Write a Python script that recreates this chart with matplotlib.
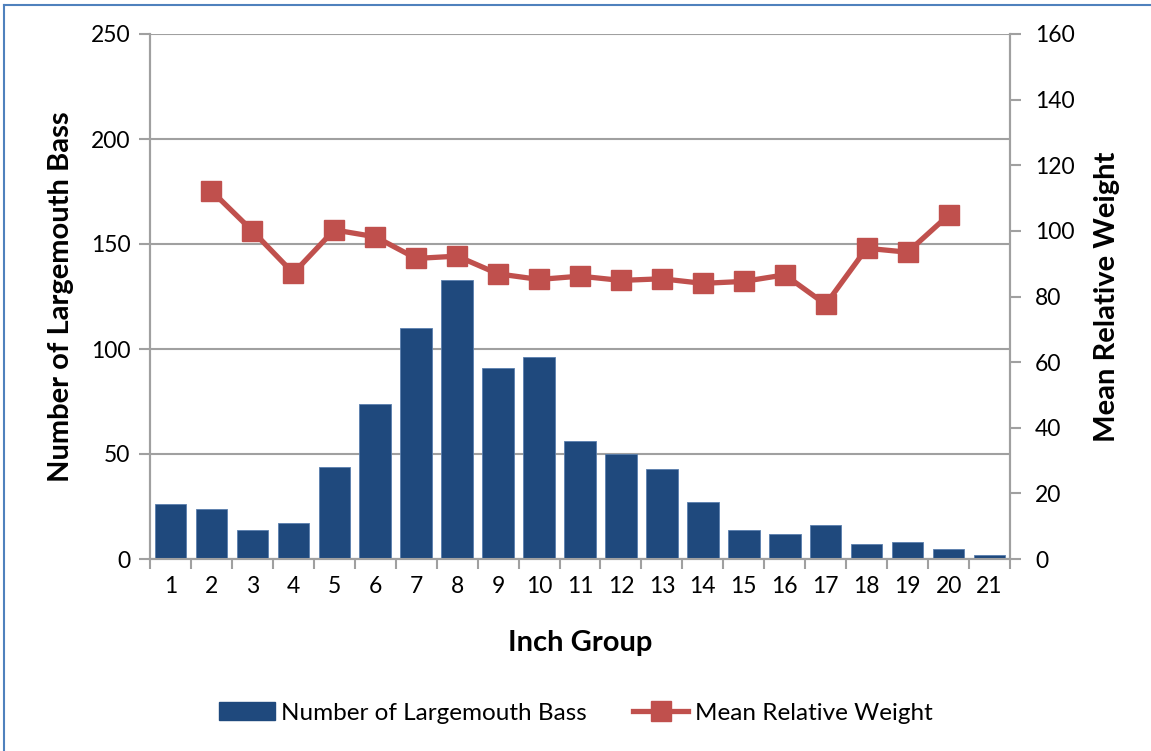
import matplotlib.pyplot as plt
from matplotlib.lines import Line2D
from matplotlib.patches import Patch

plt.rcParams['font.family'] = ['Lato', 'DejaVu Sans']

# data
inch_group = list(range(1, 22))
n_bass = [26, 24, 14, 17, 44, 74, 110, 133, 91, 96, 56, 50, 43, 27, 14, 12, 16, 7, 8, 5, 2]
wr_groups = list(range(2, 21))
mean_wr = [112.2, 100.0, 87.1, 100.3, 98.2, 91.6, 92.3, 86.9, 85.2, 86.2,
           84.9, 85.4, 84.0, 84.6, 86.6, 77.6, 94.7, 93.5, 104.8]

bar_col = '#1F497D'
line_col = '#C0504D'
grid_col = '#A0A0A0'

fig = plt.figure(figsize=(11.51, 7.51), dpi=100)
ax = fig.add_axes([150/1151, 1 - 559/751, 860/1151, 525/751])
ax2 = ax.twinx()

ax.bar(inch_group, n_bass, width=0.77, color=bar_col, edgecolor='#5a7fae', linewidth=0.6, zorder=3)
ax2.plot(wr_groups, mean_wr, color=line_col, lw=3.8, marker='s', markersize=14.5, zorder=4)

ax.set_xlim(0.5, 21.5)
ax.set_ylim(0, 250)
ax2.set_ylim(0, 160)
ax.set_yticks(range(0, 251, 50))
ax2.set_yticks(range(0, 161, 20))
ax.set_xticks(inch_group)
ax.set_xticks([i + 0.5 for i in range(0, 22)], minor=True)
ax.tick_params(axis='x', which='major', length=0, labelsize=16.5, pad=12)
ax.tick_params(axis='x', which='minor', length=7, width=1.5, color=grid_col, direction='out')
ax.tick_params(axis='y', length=8, width=1.5, color=grid_col, labelsize=16.5, pad=6)
ax2.tick_params(axis='y', length=8, width=1.5, color=grid_col, labelsize=16.5, pad=10)

ax.yaxis.grid(True, color=grid_col, lw=1.5, zorder=0)
ax.set_axisbelow(True)
for a in (ax, ax2):
    a.spines['top'].set_visible(False)
    for s in ('left', 'right', 'bottom'):
        a.spines[s].set_color(grid_col)
        a.spines[s].set_linewidth(1.5)
ax.set_zorder(ax2.get_zorder() - 1)
ax.patch.set_visible(True)
ax2.patch.set_visible(False)

ax.set_xlabel('Inch Group', fontsize=21, fontweight='bold', labelpad=24)
ax.set_ylabel('Number of Largemouth Bass', fontsize=21, fontweight='bold', labelpad=12)
ax2.set_ylabel('Mean Relative Weight', fontsize=21, fontweight='bold', labelpad=14)

handles = [Patch(facecolor=bar_col, edgecolor=bar_col),
           Line2D([0], [0], color=line_col, lw=3.8, marker='s', markersize=14.5)]
fig.legend(handles, ['Number of Largemouth Bass', 'Mean Relative Weight'],
           loc='center', bbox_to_anchor=(0.5, 1 - 713/751), ncol=2, frameon=False,
           fontsize=17.5, handlelength=2.3, handletextpad=0.25, columnspacing=1.9)

# outer chart border (left and top edges visible)
fig.add_artist(Line2D([4/1151, 4/1151], [0, 1 - 5/751], color='#4F81BD', lw=1.5))
fig.add_artist(Line2D([4/1151, 1], [1 - 5/751, 1 - 5/751], color='#4F81BD', lw=1.5))

fig.savefig('out.png', dpi=100)
